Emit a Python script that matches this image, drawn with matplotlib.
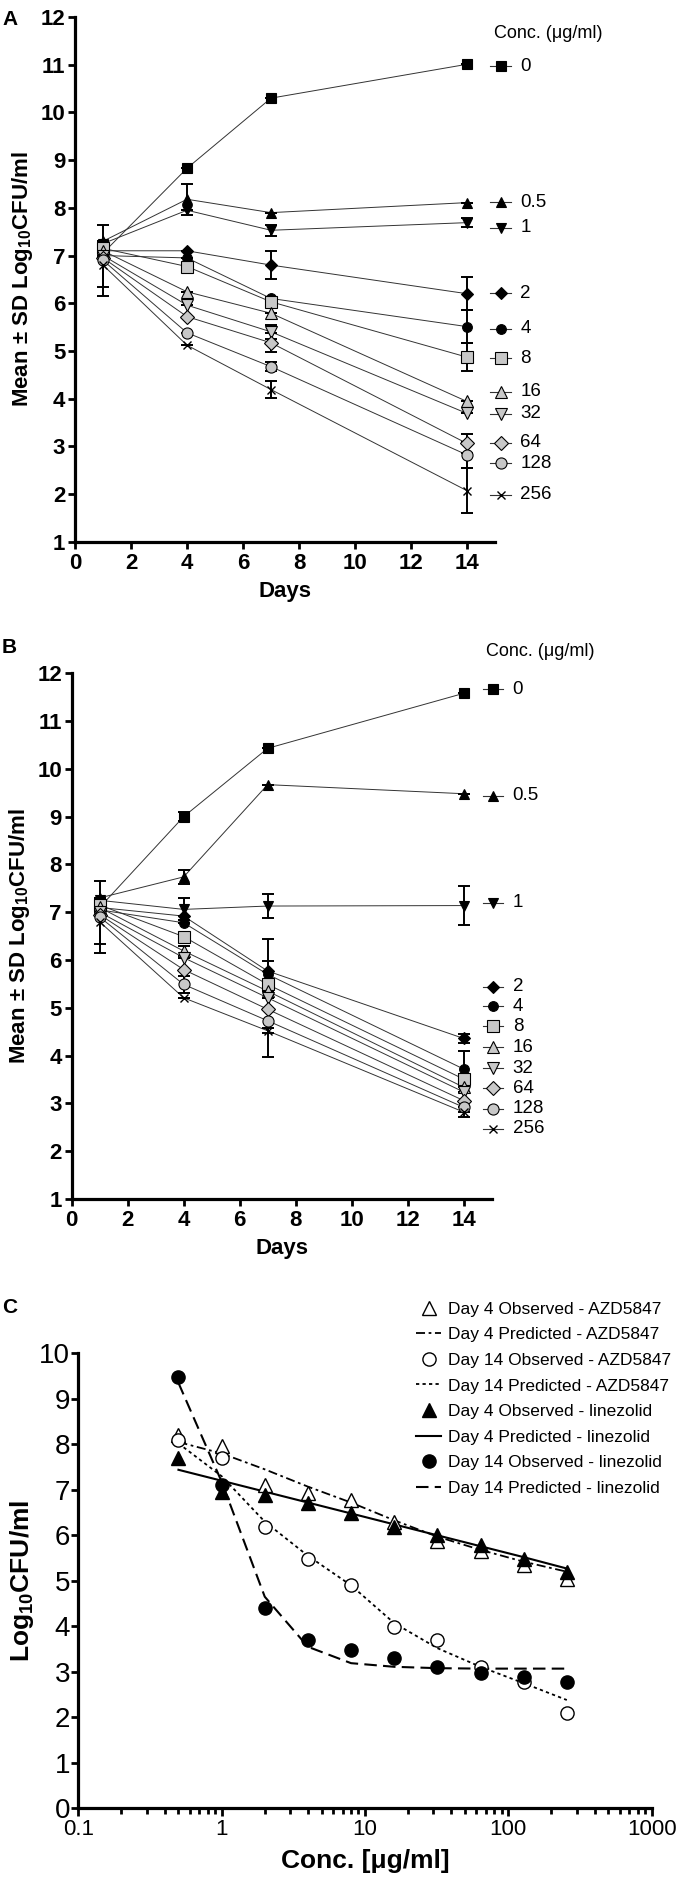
import numpy as np
import matplotlib.pyplot as plt
from matplotlib.lines import Line2D

plt.rcParams['font.family'] = ['Liberation Sans', 'DejaVu Sans']
plt.rcParams['mathtext.fontset'] = 'custom'
plt.rcParams['mathtext.rm'] = 'Liberation Sans'
plt.rcParams['mathtext.bf'] = 'Liberation Sans:bold'
plt.rcParams['mathtext.it'] = 'Liberation Sans:italic'

# ---- panels A / B : time-kill by concentration ----
days = [1, 4, 7, 14]
concs = ['0', '0.5', '1', '2', '4', '8', '16', '32', '64', '128', '256']

a_mean = [
    [7.05, 8.83, 10.30, 11.01],
    [7.30, 8.18, 7.90, 8.11],
    [7.25, 7.95, 7.53, 7.69],
    [7.10, 7.10, 6.80, 6.20],
    [7.00, 6.95, 6.10, 5.51],
    [7.15, 6.77, 6.03, 4.87],
    [7.10, 6.24, 5.79, 3.94],
    [7.00, 5.96, 5.40, 3.69],
    [6.95, 5.72, 5.17, 3.06],
    [6.90, 5.38, 4.67, 2.82],
    [6.80, 5.12, 4.19, 2.07],
]
a_sd = [
    [0, 0, 0, 0],
    [0, 0.33, 0, 0],
    [0, 0, 0.12, 0.10],
    [0, 0, 0.30, 0.35],
    [0, 0, 0, 0.35],
    [0, 0, 0.10, 0.30],
    [0, 0, 0, 0],
    [0, 0, 0.15, 0],
    [0, 0, 0.20, 0.20],
    [0.75, 0, 0.10, 0.28],
    [0.47, 0, 0.17, 0.47],
]
b_mean = [
    [7.10, 9.00, 10.43, 11.58],
    [7.30, 7.74, 9.67, 9.48],
    [7.25, 7.06, 7.13, 7.14],
    [7.10, 6.92, 5.77, 4.36],
    [7.05, 6.78, 5.70, 3.72],
    [7.15, 6.49, 5.49, 3.51],
    [7.10, 6.19, 5.35, 3.34],
    [7.00, 6.05, 5.21, 3.24],
    [6.95, 5.80, 4.97, 3.06],
    [6.90, 5.49, 4.73, 2.92],
    [6.80, 5.21, 4.52, 2.82],
]
b_sd = [
    [0, 0.10, 0, 0],
    [0, 0.15, 0, 0],
    [0, 0.23, 0.25, 0.40],
    [0, 0, 0.20, 0.10],
    [0, 0, 0.75, 0.38],
    [0, 0, 0, 0.10],
    [0, 0.10, 0, 0],
    [0, 0, 0, 0],
    [0, 0, 0, 0],
    [0.75, 0.18, 0.75, 0.10],
    [0.47, 0, 0.05, 0.10],
]
# where Prism put each legend entry (in data units, next to the last point)
a_label_y = [10.97, 8.12, 7.58, 6.21, 5.46, 4.85, 4.14, 3.68, 3.07, 2.65, 1.98]
b_label_y = [11.67, 9.44, 7.20, 5.44, 5.03, 4.61, 4.18, 3.74, 3.32, 2.89, 2.47]

# ---- panel C : concentration-effect ----
c_conc = [0.5, 1, 2, 4, 8, 16, 32, 64, 128, 256]
azd_d4_obs = [8.20, 7.97, 7.10, 6.92, 6.78, 6.30, 5.88, 5.65, 5.35, 5.05]
azd_d4_pred = [8.05, 7.80, 7.45, 7.07, 6.72, 6.33, 5.97, 5.68, 5.42, 5.20]
azd_d14_obs = [8.09, 7.69, 6.19, 5.49, 4.91, 3.99, 3.70, 3.11, 2.78, 2.10]
azd_d14_pred = [8.02, 7.30, 6.30, 5.55, 4.90, 4.07, 3.52, 3.11, 2.75, 2.38]
lzd_d4_obs = [7.69, 6.96, 6.89, 6.70, 6.48, 6.19, 6.00, 5.79, 5.47, 5.20]
lzd_d4_pred = [7.44, 7.20, 6.96, 6.72, 6.48, 6.24, 6.00, 5.76, 5.52, 5.27]
lzd_d14_obs = [9.49, 7.10, 4.40, 3.70, 3.49, 3.30, 3.10, 2.98, 2.89, 2.78]
lzd_d14_pred = [9.35, 7.18, 4.65, 3.55, 3.19, 3.11, 3.08, 3.07, 3.07, 3.07]

GREY = '#c8c8c8'
styles = [
    ('s', 'black', 7), ('^', 'black', 7), ('v', 'black', 7), ('D', 'black', 6),
    ('o', 'black', 7), ('s', GREY, 8), ('^', GREY, 8), ('v', GREY, 8),
    ('D', GREY, 7), ('o', GREY, 8), ('x', 'black', 6),
]

fig = plt.figure(figsize=(6.8, 18.77), dpi=100)


def style_axes(ax):
    for s in ['top', 'right']:
        ax.spines[s].set_visible(False)
    for s in ['left', 'bottom']:
        ax.spines[s].set_linewidth(2.3)
    ax.tick_params(direction='out', length=5, width=2)


def time_kill(ax, means, sds, label_y, title_x, title_y):
    style_axes(ax)
    for i in range(len(concs)):
        mk, fc, ms = styles[i]
        ax.errorbar(days, means[i], yerr=sds[i], fmt='none', ecolor='black',
                    elinewidth=1.4, capsize=4, capthick=1.4, zorder=2)
        ax.plot(days, means[i], color='#333333', lw=0.7, zorder=1)
        if mk == 'x':
            ax.plot(days, means[i], ls='none', marker=mk, color='black',
                    ms=ms, mew=1.0, zorder=3)
        else:
            ax.plot(days, means[i], ls='none', marker=mk, mfc=fc, mec='black',
                    ms=ms, mew=0.8, zorder=3)
        # legend entry placed next to the series end
        lx = title_x + 0.25
        ax.plot([lx - 0.36, lx + 0.36], [label_y[i]] * 2, color='#333333',
                lw=0.8, clip_on=False)
        if mk == 'x':
            ax.plot([lx], [label_y[i]], marker=mk, color='black', ms=ms,
                    mew=1.0, clip_on=False)
        else:
            ax.plot([lx], [label_y[i]], marker=mk, mfc=fc, mec='black', ms=ms,
                    mew=0.8, clip_on=False)
        ax.text(lx + 0.7, label_y[i], concs[i], fontsize=13.5, va='center',
                ha='left', clip_on=False)
    ax.text(title_x, title_y, 'Conc. (\u03bcg/ml)', fontsize=13, va='center',
            ha='left', clip_on=False)
    ax.set_xlim(0, 15)
    ax.set_ylim(1, 12)
    ax.set_xticks(range(0, 15, 2))
    ax.set_yticks(range(1, 13))
    for lab in ax.get_xticklabels() + ax.get_yticklabels():
        lab.set_fontweight('bold')
        lab.set_fontsize(16)
    ax.tick_params(axis='y', pad=2)
    ax.tick_params(axis='x', pad=3)
    ax.set_xlabel('Days', fontsize=16, fontweight='bold', labelpad=5)
    ax.set_ylabel(r'Mean $\mathbf{\pm}$ SD Log$_{\mathbf{10}}$CFU/ml',
                  fontsize=16, fontweight='bold', labelpad=4)


ax_a = fig.add_axes([0.1103, 0.7114, 0.6176, 0.2795])
time_kill(ax_a, a_mean, a_sd, a_label_y, 14.95, 11.66)

ax_b = fig.add_axes([0.1054, 0.3612, 0.6176, 0.2801])
time_kill(ax_b, b_mean, b_sd, b_label_y, 14.8, 12.45)

# panel C
ax_c = fig.add_axes([0.1151, 0.0366, 0.8432, 0.2424])
style_axes(ax_c)
ax_c.set_xscale('log')
ax_c.plot(c_conc, azd_d4_pred, color='black', lw=1.3, ls=(0, (5, 2, 1.5, 2)))
ax_c.plot(c_conc, azd_d14_pred, color='black', lw=1.3, ls=(0, (1.8, 1.8)))
ax_c.plot(c_conc, lzd_d4_pred, color='black', lw=1.5, ls='-')
ax_c.plot(c_conc, lzd_d14_pred, color='black', lw=1.5, ls=(0, (6, 3)))
ax_c.plot(c_conc, azd_d4_obs, ls='none', marker='^', mfc='white', mec='black',
          ms=10, mew=1.0)
ax_c.plot(c_conc, azd_d14_obs, ls='none', marker='o', mfc='white', mec='black',
          ms=9.5, mew=1.0)
ax_c.plot(c_conc, lzd_d4_obs, ls='none', marker='^', color='black', ms=10)
ax_c.plot(c_conc, lzd_d14_obs, ls='none', marker='o', color='black', ms=9.5)
ax_c.set_xlim(0.1, 1000)
ax_c.set_ylim(0, 10)
ax_c.set_yticks(range(0, 11))
ax_c.set_yticklabels([str(v) for v in range(0, 11)], fontsize=20)
ax_c.set_xticks([0.1, 1, 10, 100, 1000])
ax_c.set_xticklabels(['0.1', '1', '10', '100', '1000'], fontsize=16)
ax_c.tick_params(axis='x', which='minor', direction='out', length=4, width=2)
ax_c.tick_params(axis='x', which='major', length=6, pad=2)
ax_c.tick_params(axis='y', pad=1)
ax_c.set_xlabel('Conc. [\u03bcg/ml]', fontsize=19, fontweight='bold', labelpad=6)
ax_c.set_ylabel(r'Log$_{\mathbf{10}}$CFU/ml', fontsize=19, fontweight='bold',
                labelpad=2)

handles = [
    Line2D([], [], ls='none', marker='^', mfc='white', mec='black', ms=10),
    Line2D([], [], color='black', lw=1.3, ls=(0, (5, 2, 1.5, 2))),
    Line2D([], [], ls='none', marker='o', mfc='white', mec='black', ms=9.5),
    Line2D([], [], color='black', lw=1.3, ls=(0, (1.8, 1.8))),
    Line2D([], [], ls='none', marker='^', color='black', ms=10),
    Line2D([], [], color='black', lw=1.5),
    Line2D([], [], ls='none', marker='o', color='black', ms=9.5),
    Line2D([], [], color='black', lw=1.5, ls=(0, (6, 3))),
]
names = [
    'Day 4 Observed - AZD5847', 'Day 4 Predicted - AZD5847',
    'Day 14 Observed - AZD5847', 'Day 14 Predicted - AZD5847',
    'Day 4 Observed - linezolid', 'Day 4 Predicted - linezolid',
    'Day 14 Observed - linezolid', 'Day 14 Predicted - linezolid',
]
fig.legend(handles, names, loc='upper left', bbox_to_anchor=(0.612, 0.3065),
           frameon=False, fontsize=12.5, handlelength=1.45, handletextpad=0.4,
           labelspacing=0.6, borderpad=0, borderaxespad=0)

fig.text(0.003, 0.9945, 'A', fontsize=15, fontweight='bold', va='top')
fig.text(0.003, 0.6600, 'B', fontsize=15, fontweight='bold', va='top')
fig.text(0.003, 0.3085, 'C', fontsize=15, fontweight='bold', va='top')

fig.savefig('out.png', dpi=100)
